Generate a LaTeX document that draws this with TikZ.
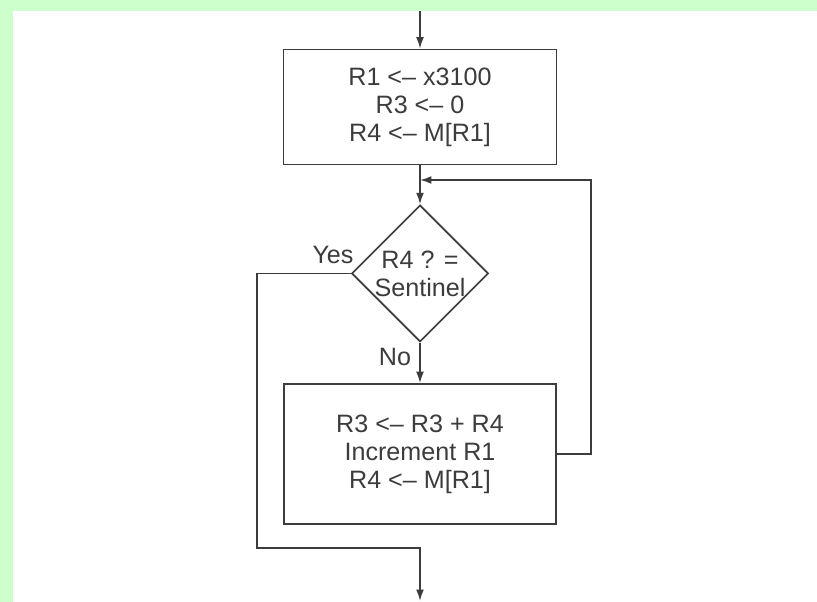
\documentclass[tikz,border=0pt]{standalone}
\usepackage{fontspec}
\setmainfont{Liberation Sans}
\usetikzlibrary{arrows.meta,shapes.geometric}
\definecolor{bggreen}{HTML}{CCFFCC}
\definecolor{ink}{HTML}{3C3C3C}
\tikzset{
  stepbox/.style={draw=ink,line width=1pt,rectangle,inner sep=0pt,align=center},
  test/.style={draw=ink,line width=1pt,diamond,aspect=1,inner sep=0pt,
    minimum width=2.7cm,minimum height=2.66cm,align=center},
  flow/.style={draw=ink,line width=1pt,-{Latex[length=6.5pt,width=4.5pt]}},
  lbl/.style={text=ink,font=\fontsize{14.3}{16}\selectfont}
}
\begin{document}
\begin{tikzpicture}[every node/.style={lbl}]
\fill[bggreen] (0,0) rectangle (16.34,12.04);
\fill[white] (0.26,0) rectangle (16.34,11.81);
\useasboundingbox (0,0) rectangle (16.34,12.04);
% boxes
\node[stepbox,minimum width=5.46cm,minimum height=2.3cm] (init) at (8.4,9.9)
  {R1 <-- x3100\\R3 <-- 0\\R4 <-- M[R1]};
\node[test] (test) at (8.4,6.57) {R4 ? =\\Sentinel};
\node[stepbox,minimum width=5.44cm,minimum height=2.8cm] (body) at (8.4,2.96)
  {R3 <-- R3 + R4\\Increment R1\\R4 <-- M[R1]};
\node (yes) at (6.66,6.94) {Yes};
\node (no) at (7.9,4.9) {No};
% connectors
\coordinate (entry) at (8.4,11.81);
\coordinate (join) at (8.4,8.44);
\coordinate (loopR) at (11.82,8.44);
\coordinate (yesL) at (5.14,1.08);
\coordinate (exitJ) at (8.4,1.08);
\coordinate (exit) at (8.4,0.02);
\draw[flow] (entry) -- (init);
\draw[flow] (init) -- (test);
\draw[flow] (test) -- (body);
\draw[flow] (body.east) -| (loopR) -- (join);
\draw[flow] (test.west) -| (yesL) -- (exitJ) -- (exit);
\end{tikzpicture}
\end{document}
